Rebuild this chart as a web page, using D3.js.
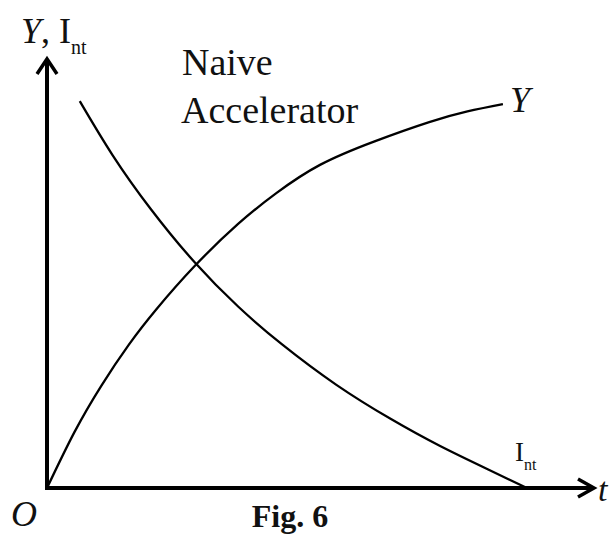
<!DOCTYPE html>
<html>
<head>
<meta charset="utf-8">
<script src="https://cdn.jsdelivr.net/npm/d3@7"></script>
<style>
  body { margin: 0; background: #fff; }
  text { font-family: "Liberation Serif", "Times New Roman", serif; fill: #111; }
</style>
</head>
<body>
<div id="fig"></div>
<script>
// values (t and level in 0..100 units)
var y_t   = [0, 5, 10, 15, 20, 27, 35, 42, 50, 60, 70, 77, 83.5];
var y_val = [0, 13, 24, 33.5, 41.7, 51.8, 61.7, 68.9, 75.5, 81.0, 85.5, 88.0, 89.7];
var int_t   = [6, 12, 19, 27, 35, 43, 53, 63, 72, 81, 87.9];
var int_val = [90.4, 77.8, 65.2, 52.8, 42.4, 33.6, 24.1, 16.1, 9.8, 4.2, 0];

var width = 616, height = 535;

var svg = d3.select("#fig")
    .append("svg")
    .attr("width", width)
    .attr("height", height);

var x = d3.scaleLinear().domain([0, 100]).range([47, 593]);
var y = d3.scaleLinear().domain([0, 100]).range([488, 60]);

var line = d3.line()
    .x(function (d) { return x(d[0]); })
    .y(function (d) { return y(d[1]); })
    .curve(d3.curveNatural);

// axes with open arrow heads
svg.append("line")
    .attr("x1", x(0)).attr("y1", y(0))
    .attr("x2", x(0)).attr("y2", y(100))
    .attr("stroke", "#000").attr("stroke-width", 4);
svg.append("line")
    .attr("x1", x(0) - 2).attr("y1", y(0))
    .attr("x2", x(100)).attr("y2", y(0))
    .attr("stroke", "#000").attr("stroke-width", 4);

svg.append("path")
    .attr("d", "M" + (x(0) - 10) + "," + (y(100) + 14) + "L" + x(0) + "," + (y(100) - 1) + "L" + (x(0) + 10) + "," + (y(100) + 14))
    .attr("fill", "none").attr("stroke", "#000").attr("stroke-width", 3.5);
svg.append("path")
    .attr("d", "M" + (x(100) - 15) + "," + (y(0) - 9) + "L" + (x(100) + 1) + "," + y(0) + "L" + (x(100) - 15) + "," + (y(0) + 9))
    .attr("fill", "none").attr("stroke", "#000").attr("stroke-width", 3.5);

// curves
svg.append("path")
    .datum(y_t.map(function (t, i) { return [t, y_val[i]]; }))
    .attr("d", line)
    .attr("fill", "none").attr("stroke", "#000").attr("stroke-width", 2.3);

svg.append("path")
    .datum(int_t.map(function (t, i) { return [t, int_val[i]]; }))
    .attr("d", line)
    .attr("fill", "none").attr("stroke", "#000").attr("stroke-width", 2.3);

// labels
var lab = svg.append("text").attr("x", 21).attr("y", 43).attr("font-size", 36);
lab.append("tspan").attr("font-style", "italic").text("Y");
lab.append("tspan").text(", I");
lab.append("tspan").attr("font-size", 20).attr("dy", 11).text("nt");

svg.append("text").attr("x", 182).attr("y", 75).attr("font-size", 38).text("Naive");
svg.append("text").attr("x", 181).attr("y", 123).attr("font-size", 38).text("Accelerator");

svg.append("text").attr("x", 510).attr("y", 112).attr("font-size", 36)
    .attr("font-style", "italic").text("Y");

var lab2 = svg.append("text").attr("x", 515).attr("y", 461).attr("font-size", 27);
lab2.append("tspan").text("I");
lab2.append("tspan").attr("font-size", 16).attr("dy", 9).text("nt");

svg.append("text").attr("x", 598).attr("y", 501).attr("font-size", 34)
    .attr("font-style", "italic").text("t");

svg.append("text").attr("x", 11).attr("y", 526).attr("font-size", 36)
    .attr("font-style", "italic").text("O");

svg.append("text").attr("x", 290).attr("y", 527).attr("font-size", 32)
    .attr("font-weight", "bold").attr("text-anchor", "middle").text("Fig. 6");
</script>
</body>
</html>
